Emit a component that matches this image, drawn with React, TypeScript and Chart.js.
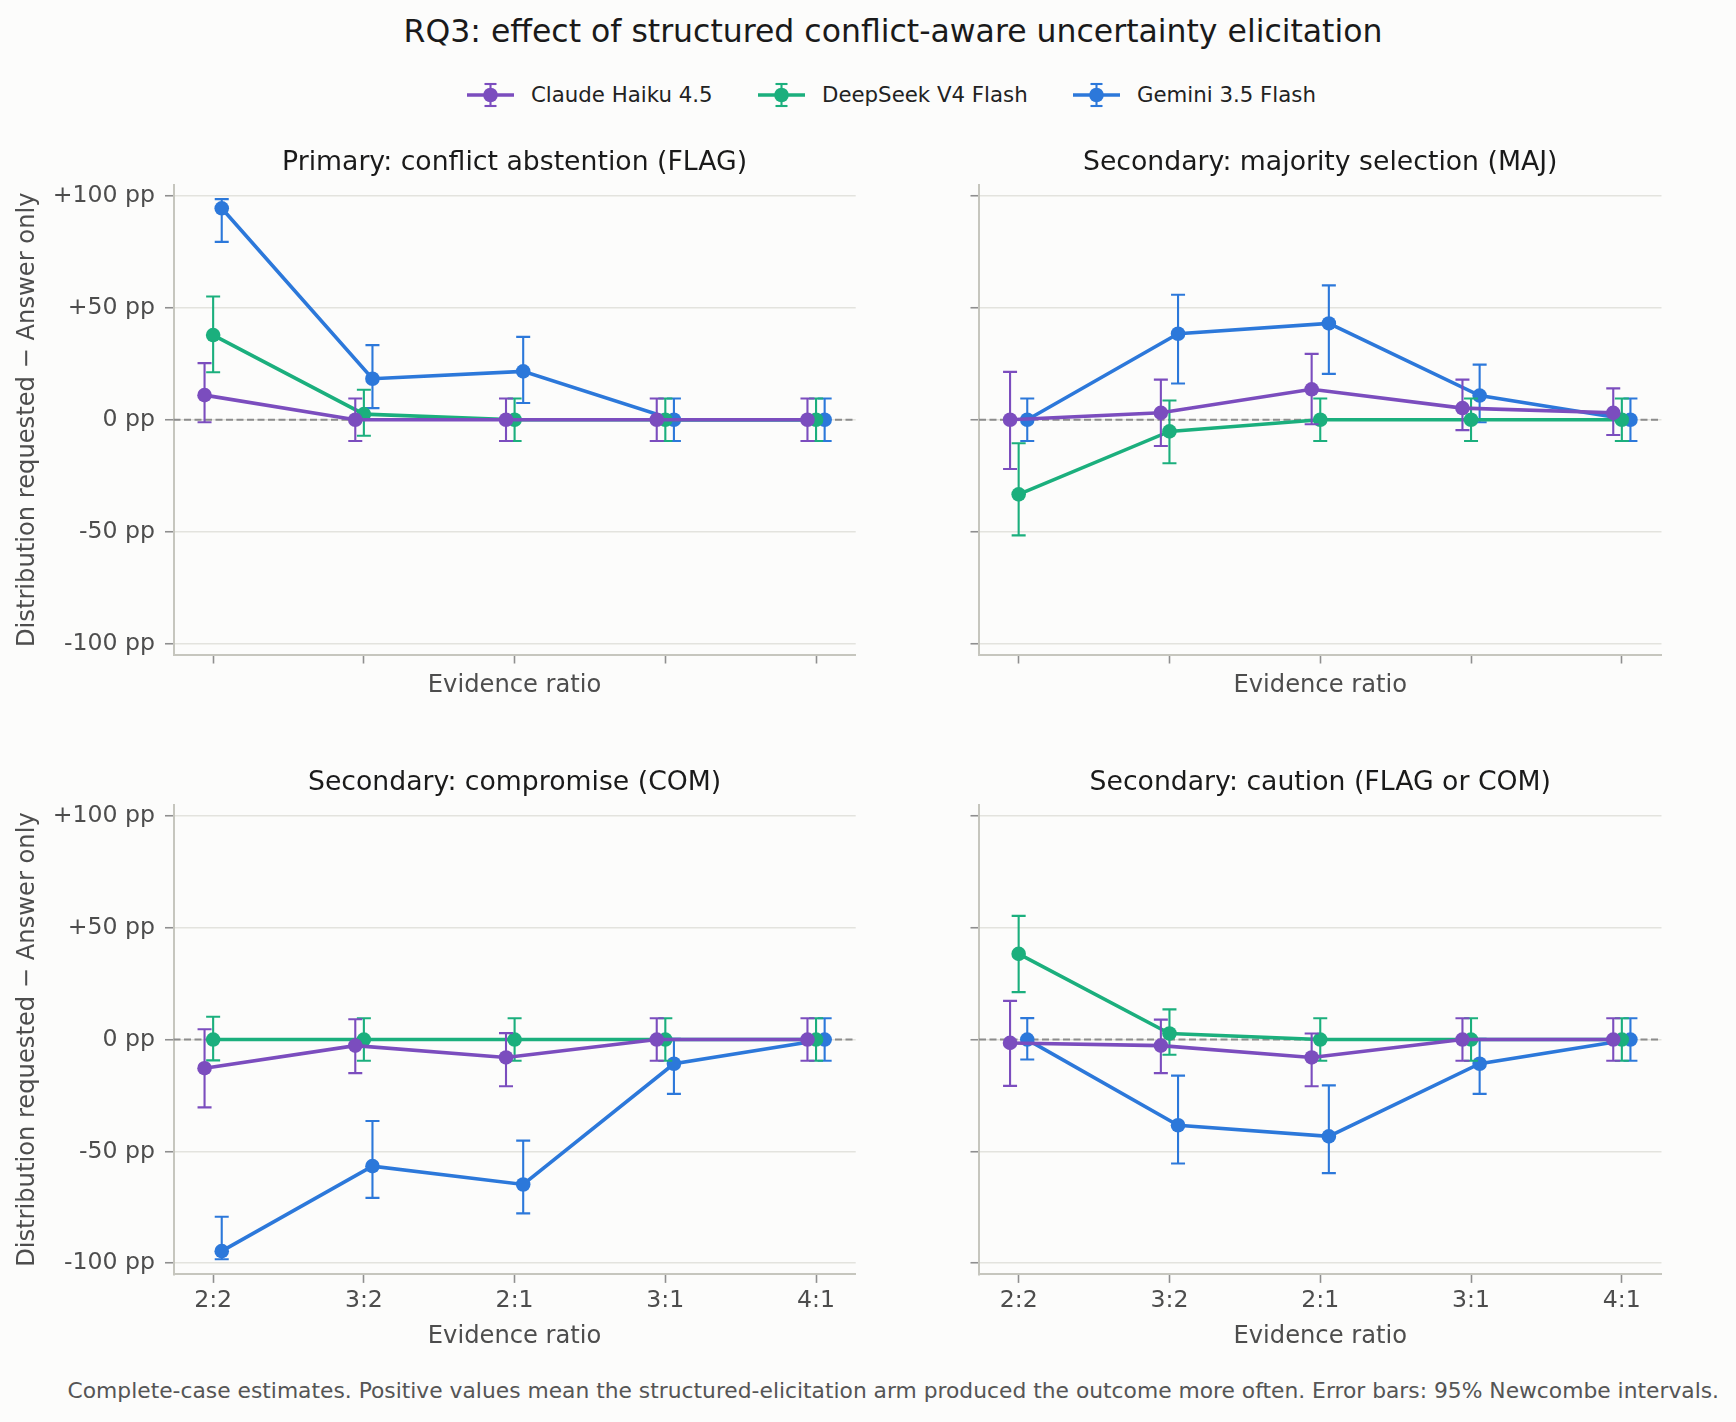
import React, { useEffect, useRef } from "react";
import { Chart, registerables } from "chart.js";

Chart.register(...registerables);

// ---- data -------------------------------------------------------------
const RATIOS = ["2:2", "3:2", "2:1", "3:1", "4:1"];
const MODELS = ["Claude Haiku 4.5", "DeepSeek V4 Flash", "Gemini 3.5 Flash"];
const Y_TICKS = [-100, -50, 0, 50, 100];

// Differences (pp), rows: Claude, DeepSeek, Gemini
const FLAG_EST = [
  [11, 0, 0, 0, 0],
  [37.8, 2.5, 0, 0, 0],
  [94.4, 18.3, 21.6, 0, 0],
];
const FLAG_LO = [
  [-1.1, -9.5, -9.5, -9.5, -9.5],
  [21.2, -7.1, -9.5, -9.5, -9.5],
  [79.4, 5.2, 7.5, -9.5, -9.5],
];
const FLAG_HI = [
  [25.3, 9.5, 9.5, 9.5, 9.5],
  [55, 13.4, 9.5, 9.5, 9.5],
  [98.5, 33.3, 37, 9.5, 9.5],
];

const MAJ_EST = [
  [0, 3.1, 13.6, 5.2, 3.1],
  [-33.3, -5.2, 0, 0, 0],
  [0, 38.4, 43, 10.8, 0],
];
const MAJ_LO = [
  [-22, -11.7, -2, -4.6, -6.8],
  [-51.6, -19.4, -9.5, -9.5, -9.5],
  [-9.5, 16.2, 20.5, -1.1, -9.5],
];
const MAJ_HI = [
  [21.4, 17.9, 29.4, 17.9, 14],
  [-10.5, 8.6, 9.5, 9.5, 9.5],
  [9.5, 55.8, 60, 24.6, 9.5],
];

const COM_EST = [
  [-12.8, -2.7, -8, 0, 0],
  [0, 0, 0, 0, 0],
  [-94.6, -56.6, -64.8, -10.8, 0],
];
const COM_LO = [
  [-30.3, -15, -20.9, -9.5, -9.5],
  [-9.3, -9.5, -9.5, -9.5, -9.5],
  [-98.2, -70.8, -77.7, -24.3, -9.5],
];
const COM_HI = [
  [4.6, 9.1, 2.9, 9.5, 9.5],
  [10.2, 9.5, 9.5, 9.5, 9.5],
  [-79.2, -36.4, -45.2, 0.3, 9.5],
];

const CAU_EST = [
  [-1.5, -2.7, -8, 0, 0],
  [38.3, 2.7, 0, 0, 0],
  [0, -38.3, -43.3, -10.8, 0],
];
const CAU_LO = [
  [-20.7, -15, -20.9, -9.5, -9.5],
  [21.2, -6.8, -9.5, -9.5, -9.5],
  [-8.9, -55.4, -59.7, -24.3, -9.5],
];
const CAU_HI = [
  [17.3, 8.9, 2.7, 9.5, 9.5],
  [55.3, 13.5, 9.5, 9.5, 9.5],
  [9.6, -16.1, -20.5, 0.3, 9.5],
];

// ---- styling ----------------------------------------------------------
const COLORS = ["#7b4dbe", "#1baf7d", "#2c78da"];
const DODGE = [-0.057, 0, 0.057];
const FONT = "'DejaVu Sans', 'Noto Sans', sans-serif";
const BG = "#fcfcfb";
const TICK_SIZE = 23.6;
const LABEL_SIZE = 24.2;
const TITLE_SIZE = 26.7;
const LINE_W = 3.6;
const ERR_W = 2.1;
const MARKER_R = 7.3;

const errorBarPlugin = {
  id: "errorBars",
  beforeDatasetDraw(chart: any, args: any) {
    const ds = chart.data.datasets[args.index];
    const xs = chart.scales.x;
    const ys = chart.scales.y;
    const ctx = chart.ctx;
    ctx.save();
    ctx.strokeStyle = ds.borderColor;
    ctx.lineWidth = ERR_W;
    ctx.lineCap = "butt";
    const cap = 7;
    ds.data.forEach((p: any, i: number) => {
      const x = xs.getPixelForValue(p.x);
      const y1 = ys.getPixelForValue(ds.errLo[i]);
      const y2 = ys.getPixelForValue(ds.errHi[i]);
      ctx.beginPath();
      ctx.moveTo(x, y1);
      ctx.lineTo(x, y2);
      ctx.moveTo(x - cap, y1);
      ctx.lineTo(x + cap, y1);
      ctx.moveTo(x - cap, y2);
      ctx.lineTo(x + cap, y2);
      ctx.stroke();
    });
    ctx.restore();
  },
};

const zeroLinePlugin = {
  id: "zeroLine",
  beforeDatasetsDraw(chart: any) {
    const { ctx, chartArea } = chart;
    const y = chart.scales.y.getPixelForValue(0);
    ctx.save();
    ctx.strokeStyle = "#8c8c8c";
    ctx.lineWidth = 1.9;
    ctx.setLineDash([7, 3.5]);
    ctx.beginPath();
    ctx.moveTo(chartArea.left, y);
    ctx.lineTo(chartArea.right, y);
    ctx.stroke();
    ctx.restore();
  },
};

type PanelProps = {
  title: string;
  est: number[][];
  lo: number[][];
  hi: number[][];
  col: number;
  row: number;
};

const COLS = [
  { left: 0, width: 870, yAxisW: 173.5, padRight: 14.3, showY: true },
  { left: 870, width: 866, yAxisW: 109, padRight: 74.5, showY: false },
];
const ROWS = [
  { top: 130, height: 580, titleTop: 16.7, titleBottom: 5.8, xAxisH: 55, xTitlePad: 9.3, showX: false },
  { top: 750, height: 620, titleTop: 16.7, titleBottom: 6.0, xAxisH: 95.6, xTitlePad: 18.3, showX: true },
];

function Panel({ title, est, lo, hi, col, row }: PanelProps) {
  const ref = useRef<HTMLCanvasElement>(null);
  const c = COLS[col];
  const r = ROWS[row];

  useEffect(() => {
    if (!ref.current) return;
    const datasets = MODELS.map((name, m) => ({
      label: name,
      data: RATIOS.map((_, i) => ({ x: i + DODGE[m], y: est[m][i] })),
      errLo: lo[m],
      errHi: hi[m],
      borderColor: COLORS[m],
      backgroundColor: COLORS[m],
      pointBackgroundColor: COLORS[m],
      pointBorderWidth: 0,
      pointRadius: MARKER_R,
      borderWidth: LINE_W,
      tension: 0,
      clip: false,
    }));

    const chart = new Chart(ref.current, {
      type: "line",
      data: { datasets } as any,
      plugins: [zeroLinePlugin, errorBarPlugin],
      options: {
        animation: false,
        responsive: false,
        devicePixelRatio: 1,
        events: [],
        layout: { padding: { left: 0, right: c.padRight, top: 0, bottom: 0 }, autoPadding: false } as any,
        plugins: {
          legend: { display: false },
          tooltip: { enabled: false },
          title: {
            display: true,
            text: title,
            fullSize: false,
            color: "#1a1a1a",
            font: { family: FONT, size: TITLE_SIZE, weight: "normal" },
            padding: { top: r.titleTop, bottom: r.titleBottom },
          },
        },
        scales: {
          x: {
            type: "linear",
            min: -0.263,
            max: 4.263,
            afterBuildTicks: (s: any) => {
              s.ticks = RATIOS.map((_, i) => ({ value: i }));
            },
            afterFit: (s: any) => {
              s.height = r.xAxisH;
            },
            ticks: {
              callback: (v: any) => (r.showX ? RATIOS[Math.round(Number(v))] : ""),
              color: "#4d4d4d",
              font: { family: FONT, size: TICK_SIZE },
              padding: 4,
              maxRotation: 0,
              autoSkip: false,
            },
            grid: {
              drawOnChartArea: false,
              drawTicks: true,
              tickLength: 8.5,
              tickColor: "#8f8f8f",
              tickWidth: 1.6,
            },
            border: { display: true, color: "#c6c6be", width: 2 },
            title: {
              display: true,
              text: "Evidence ratio",
              color: "#4d4d4d",
              font: { family: FONT, size: LABEL_SIZE },
              padding: { top: 0, bottom: r.xTitlePad },
            },
          },
          y: {
            type: "linear",
            min: -105,
            max: 105,
            afterBuildTicks: (s: any) => {
              s.ticks = Y_TICKS.map((v) => ({ value: v }));
            },
            afterFit: (s: any) => {
              s.width = c.yAxisW;
            },
            ticks: {
              callback: (v: any) => {
                if (!c.showY) return "";
                const n = Number(v);
                return n > 0 ? `+${n} pp` : `${n} pp`;
              },
              color: "#4d4d4d",
              font: { family: FONT, size: TICK_SIZE },
              padding: 10,
            },
            grid: {
              color: "#e3e3de",
              lineWidth: 1.5,
              drawTicks: true,
              tickLength: 8.5,
              tickColor: "#8f8f8f",
              tickWidth: 1.6,
            },
            border: { display: true, color: "#c6c6be", width: 2 },
            title: {
              display: c.showY,
              text: "Distribution requested \u2212 Answer only",
              color: "#4d4d4d",
              font: { family: FONT, size: LABEL_SIZE },
              padding: { top: 13.2, bottom: 0 },
            },
          },
        },
      } as any,
    });
    return () => chart.destroy();
  }, [title, est, lo, hi, col, row]);

  return (
    <canvas
      ref={ref}
      width={c.width}
      height={r.height}
      style={{ position: "absolute", left: c.left, top: r.top, width: c.width, height: r.height }}
    />
  );
}

function LegendIcon({ color }: { color: string }) {
  return (
    <svg width={48} height={30} style={{ display: "block" }}>
      <line x1={0} y1={15} x2={47} y2={15} stroke={color} strokeWidth={LINE_W} />
      <line x1={23.5} y1={4} x2={23.5} y2={26} stroke={color} strokeWidth={ERR_W} />
      <line x1={17.5} y1={4} x2={29.5} y2={4} stroke={color} strokeWidth={ERR_W} />
      <line x1={17.5} y1={26} x2={29.5} y2={26} stroke={color} strokeWidth={ERR_W} />
      <circle cx={23.5} cy={15} r={MARKER_R} fill={color} />
    </svg>
  );
}

const LEGEND_X = [467, 758, 1073];

export default function App() {
  return (
    <div
      style={{
        position: "absolute",
        left: 0,
        top: 0,
        width: 1736,
        height: 1422,
        background: BG,
        fontFamily: FONT,
        overflow: "hidden",
      }}
    >
      <div
        style={{
          position: "absolute",
          left: 343,
          width: 1100,
          top: 11,
          lineHeight: "40px",
          fontSize: 31.5,
          textAlign: "center",
          color: "#1a1a1a",
          whiteSpace: "nowrap",
        }}
      >
        RQ3: effect of structured conflict-aware uncertainty elicitation
      </div>

      {MODELS.map((m, i) => (
        <div key={m} style={{ position: "absolute", left: LEGEND_X[i], top: 80, height: 30, display: "flex", alignItems: "center" }}>
          <LegendIcon color={COLORS[i]} />
          <span style={{ marginLeft: 16, fontSize: 21.3, color: "#222", lineHeight: "30px", whiteSpace: "nowrap" }}>{m}</span>
        </div>
      ))}

      <Panel title="Primary: conflict abstention (FLAG)" est={FLAG_EST} lo={FLAG_LO} hi={FLAG_HI} col={0} row={0} />
      <Panel title="Secondary: majority selection (MAJ)" est={MAJ_EST} lo={MAJ_LO} hi={MAJ_HI} col={1} row={0} />
      <Panel title="Secondary: compromise (COM)" est={COM_EST} lo={COM_LO} hi={COM_HI} col={0} row={1} />
      <Panel title="Secondary: caution (FLAG or COM)" est={CAU_EST} lo={CAU_LO} hi={CAU_HI} col={1} row={1} />

      <div
        style={{
          position: "absolute",
          right: 17,
          top: 1376,
          lineHeight: "30px",
          fontSize: 21.8,
          color: "#555",
          whiteSpace: "nowrap",
        }}
      >
        Complete-case estimates. Positive values mean the structured-elicitation arm produced the outcome more often. Error bars: 95% Newcombe intervals.
      </div>
    </div>
  );
}
